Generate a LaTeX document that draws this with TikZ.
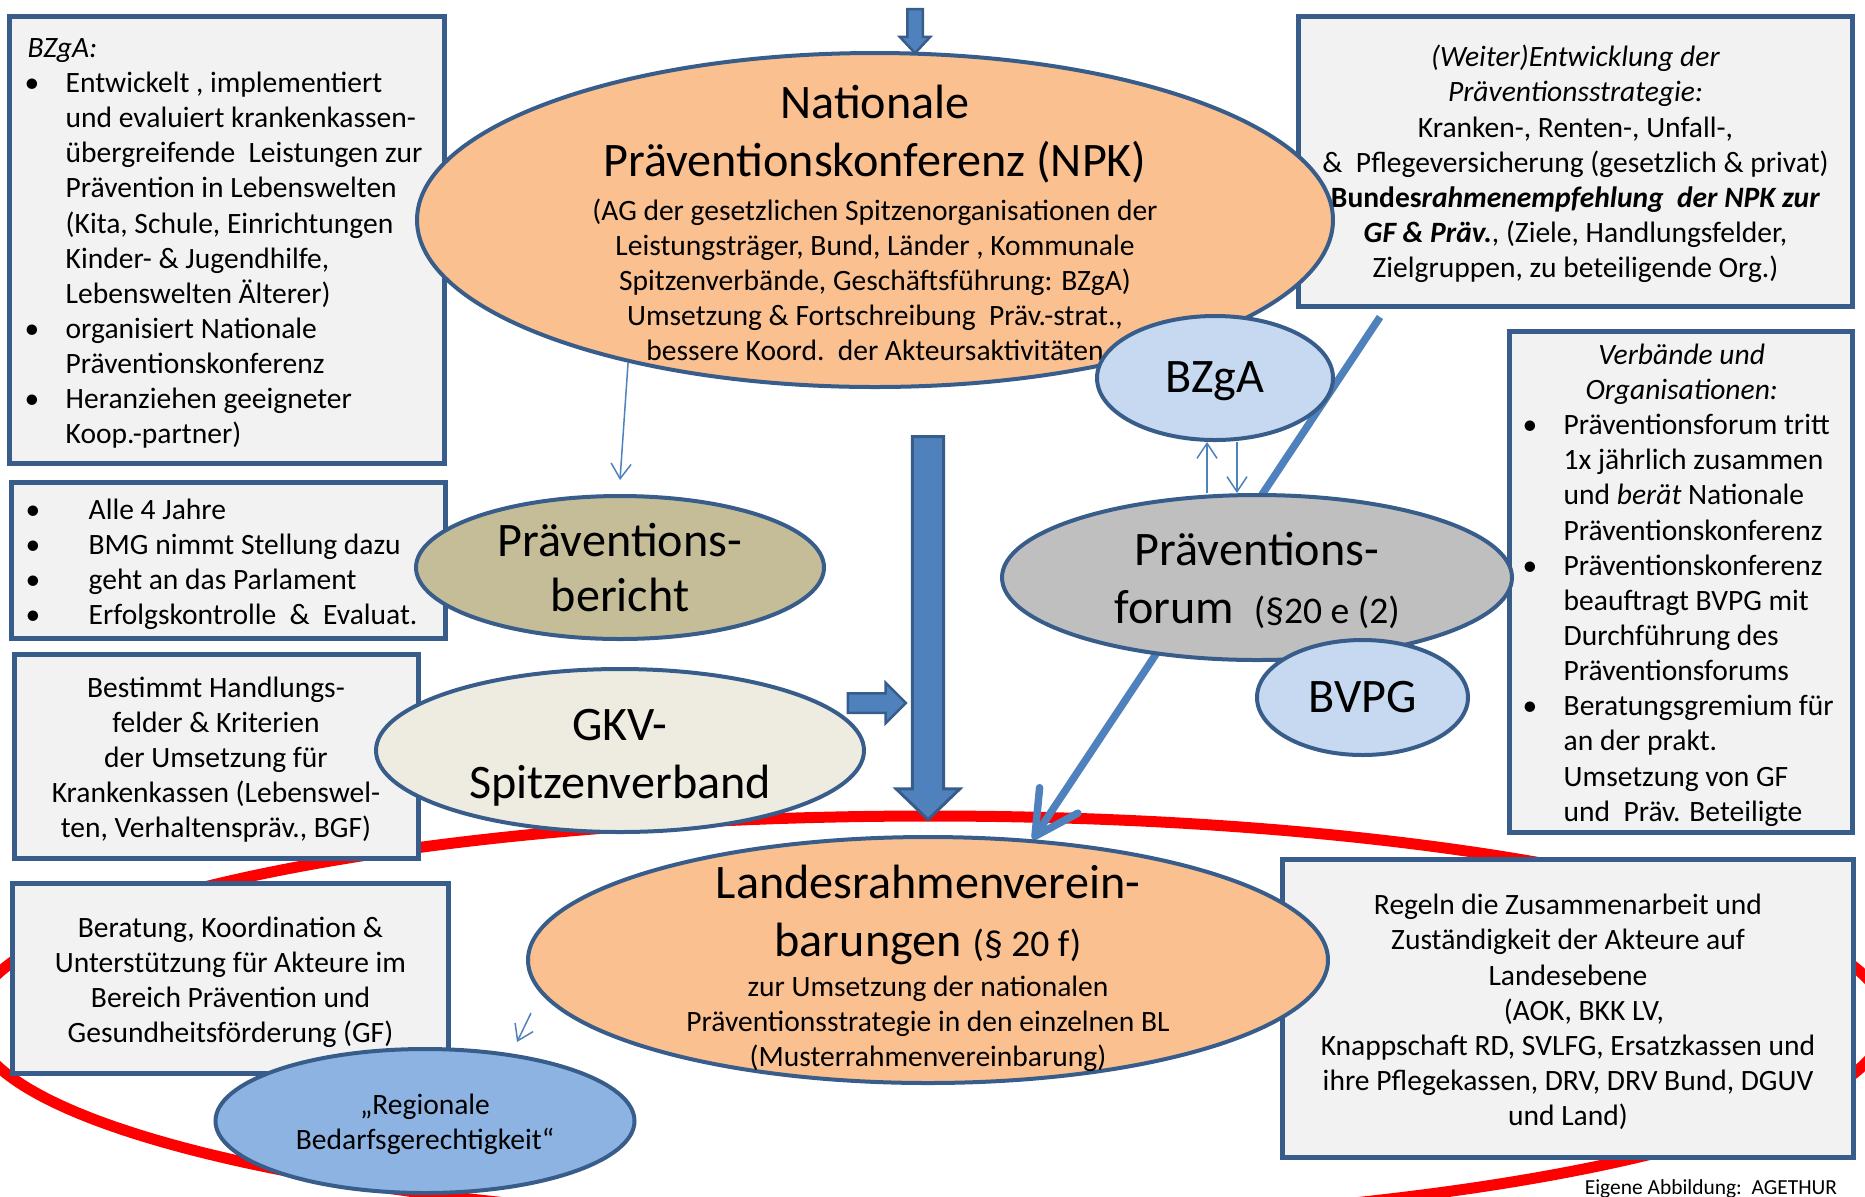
\documentclass[tikz,border=0pt]{standalone}
\usepackage{fontspec}
\setmainfont{Carlito}
\usetikzlibrary{shapes.geometric,shapes.arrows,arrows.meta,positioning}

\definecolor{boxline}{RGB}{56,93,138}
\definecolor{boxfill}{RGB}{242,242,242}
\definecolor{npkfill}{RGB}{250,192,143}
\definecolor{lightblue}{RGB}{198,217,241}
\definecolor{berichtfill}{RGB}{196,189,151}
\definecolor{forumfill}{RGB}{191,191,191}
\definecolor{gkvfill}{RGB}{238,236,225}
\definecolor{regfill}{RGB}{141,179,226}
\definecolor{arrowblue}{RGB}{79,129,189}

\pgfdeclarelayer{background}
\pgfsetlayers{background,main}

% bullet and hanging indent for the lists
\newcommand{\lbul}[1][3.8mm]{\makebox[#1][l]{\hspace*{-0.3mm}\textbullet}}
\newcommand{\lind}[1][3.8mm]{\hspace*{#1}}

\tikzset{
  box/.style={draw=boxline, fill=boxfill, line width=0.5mm, inner sep=0pt},
  oval/.style={ellipse, draw=boxline, line width=0.4mm, inner sep=0pt},
  txt/.style={font=\fontsize{8.4}{10}\selectfont, inner sep=0pt},
  bigtxt/.style={font=\fontsize{13.7}{16.5}\selectfont, inner sep=0pt},
  thinarr/.style={draw=arrowblue, line width=0.15mm, -{Straight Barb[length=1.5mm,width=2mm]}},
  diagarr/.style={draw=arrowblue, line width=0.75mm, -{Straight Barb[length=4.3mm,width=4.6mm,round]}},
  blockarr/.style={single arrow, draw=boxline, fill=arrowblue, line width=0.3mm, inner xsep=0pt, single arrow head indent=0pt},
  redring/.style={draw=red, line width=1.1mm},
}

\begin{document}
\begin{tikzpicture}[x=0.1mm, y=-0.1mm]
\useasboundingbox (0,0) rectangle (1865,1196);

% boxes
\node[box, minimum width=43.5mm, minimum height=44.7mm] (bzgabox) at (227,240) {};
\node[txt, align=left, right=2mm of bzgabox.west, yshift=-0.35mm] (bzgatext) {\textit{BZgA:}\\
\lbul Entwickelt , implementiert\\
\lind und evaluiert krankenkassen-\\
\lind übergreifende\ \ Leistungen zur\\
\lind Prävention in Lebenswelten\\
\lind (Kita, Schule, Einrichtungen\\
\lind Kinder- \& Jugendhilfe,\\
\lind Lebenswelten Älterer)\\
\lbul organisiert Nationale\\
\lind Präventionskonferenz\\
\lbul Heranziehen geeigneter\\
\lind Koop.-partner)};

\node[box, minimum width=43.4mm, minimum height=15.6mm] (allebox) at (228.5,560.5) {};
\node[txt, align=left, right=1.9mm of allebox.west, yshift=-0.35mm] (alletext) {\lbul[6mm]Alle 4 Jahre\\
\lbul[6mm]BMG nimmt Stellung dazu\\
\lbul[6mm]geht an das Parlament\\
\lbul[6mm]Erfolgskontrolle\ \ \&\ \ Evaluat.};

\node[box, minimum width=40.4mm, minimum height=20.4mm] (bestbox) at (216,756) {};
\node[txt, align=center] (besttext) at ([yshift=-0.35mm]bestbox) {Bestimmt Handlungs-\\
felder \& Kriterien\\
der Umsetzung für\\
Krankenkassen (Lebenswel-\\
ten, Verhaltenspräv., BGF)};

\node[box, minimum width=43.6mm, minimum height=19mm] (beratbox) at (230.5,978.5) {};
\node[txt, align=center] (berattext) at ([yshift=-0.35mm]beratbox) {Beratung, Koordination \&\\
Unterstützung für Akteure im\\
Bereich Prävention und\\
Gesundheitsförderung (GF)};

\node[box, minimum width=55.4mm, minimum height=29mm] (entwbox) at (1575.5,161.5) {};
\node[txt, align=center] (entwtext) at ([yshift=-0.25mm]entwbox) {\textit{(Weiter)Entwicklung der}\\
\textit{Präventionsstrategie:}\\
Kranken-, Renten-, Unfall-,\\
\&\ \ Pflegeversicherung (gesetzlich \& privat)\\
\textbf{Bundes\textit{rahmenempfehlung\ \ der NPK zur}}\\
\textbf{\textit{GF \& Präv.}}, (Ziele, Handlungsfelder,\\
Zielgruppen, zu beteiligende Org.)};

\node[box, minimum width=34.3mm, minimum height=50.1mm] (verbbox) at (1681,582) {};
\node[txt, align=left, right=1.8mm of verbbox.west, yshift=-0.3mm] (verbtext) {\makebox[31.2mm]{\textit{Verbände und}}\\
\makebox[31.2mm]{\textit{Organisationen:}}\\
\lbul Präventionsforum tritt\\
\lind 1x jährlich zusammen\\
\lind und \textit{berät} Nationale\\
\lind Präventionskonferenz\\
\lbul Präventionskonferenz\\
\lind beauftragt BVPG mit\\
\lind Durchführung des\\
\lind Präventionsforums\\
\lbul Beratungsgremium für\\
\lind an der prakt.\\
\lind Umsetzung von GF\\
\lind und\ \ Präv. Beteiligte};

\node[box, minimum width=57.1mm, minimum height=29.8mm] (regelbox) at (1568,1008.5) {};
\node[txt, align=center] (regeltext) at ([yshift=-0.35mm]regelbox) {Regeln die Zusammenarbeit und\\
Zuständigkeit der Akteure auf\\
Landesebene\\
\hspace*{3.2mm}(AOK, BKK LV,\\
Knappschaft RD, SVLFG, Ersatzkassen und\\
ihre Pflegekassen, DRV, DRV Bund, DGUV\\
und Land)};

% block arrows
\node[blockarr, rotate=-90, line width=0.25mm, inner ysep=0.65mm, minimum height=4.4mm, minimum width=2.8mm,
  single arrow head extend=0.75mm, single arrow tip angle=86] (toparrow) at (915,27) {};
\node[blockarr, rotate=-90, inner ysep=1.42mm, minimum height=38.3mm, minimum width=6mm,
  single arrow head extend=1.6mm, single arrow tip angle=92] (mainarrow) at (928,620.5) {};
\node[blockarr, line width=0.25mm, inner ysep=0.85mm, minimum height=5.8mm, minimum width=3.8mm,
  single arrow head extend=1.05mm] (gkvarrow) at (872,703) {};

% ellipses
\node[oval, fill=npkfill, minimum width=91.6mm, minimum height=33.4mm] (npk) at (875,220) {};
\node[bigtxt, align=center] (npktitle) at (875,134) {Nationale\\Präventionskonferenz (NPK)};
\node[txt, align=center] (npktext) at (875,280) {(AG der gesetzlichen Spitzenorganisationen der\\
Leistungsträger, Bund, Länder , Kommunale\\
Spitzenverbände, Geschäftsführung: BZgA)\\
Umsetzung \& Fortschreibung\ \ Präv.-strat.,\\
bessere Koord.\ \ der Akteursaktivitäten};

\node[oval, fill=lightblue, minimum width=23.6mm, minimum height=12.4mm] (bzga) at (1215,378) {};
\node[bigtxt] (bzgatxt) at ([yshift=-0.35mm]bzga) {BZgA};

\node[oval, fill=forumfill, minimum width=51mm, minimum height=16.5mm] (forum) at (1257,577.5) {};
\node[bigtxt, align=center] (forumtext) at ([yshift=-0.25mm]forum) {Präventions-\\forum\hspace{2mm}{\fontsize{10.7}{12}\selectfont(§20 e (2)}};
\node[oval, fill=lightblue, minimum width=21.1mm, minimum height=11.5mm] (bvpg) at (1362.5,697.5) {};
\node[bigtxt] (bvpgtext) at (bvpg) {BVPG};

\node[oval, fill=berichtfill, minimum width=40.8mm, minimum height=14.3mm] (bericht) at (620,567.5) {};
\node[bigtxt, font=\fontsize{13.7}{15.4}\selectfont, align=center] (berichttext) at (bericht) {Präventions-\\bericht};
\node[oval, fill=gkvfill, minimum width=48.8mm, minimum height=16.3mm] (gkv) at (620,750.5) {};
\node[bigtxt, align=center] (gkvtext) at ([yshift=-0.7mm]gkv) {GKV-\\Spitzenverband};

\node[oval, fill=npkfill, minimum width=80mm, minimum height=24.6mm] (landes) at (928,960) {};
\node[bigtxt, align=center] (landestitle) at (928,915) {Landesrahmenverein-\\barungen {\fontsize{10.7}{12}\selectfont(§ 20 f)}};
\node[txt, align=center] (landestext) at (928,1023.5) {zur Umsetzung der nationalen\\
Präventionsstrategie in den einzelnen BL\\
(Musterrahmenvereinbarung)};

\node[oval, fill=regfill, minimum width=41.9mm, minimum height=14.4mm] (regional) at (425,1121) {};
\node[txt, align=center] (regionaltext) at ([yshift=-0.35mm]regional) {„Regionale\\Bedarfsgerechtigkeit“};

% thin arrows
\draw[thinarr] (npk.210.3) -- ([yshift=1.4mm]bericht.north);
\draw[thinarr] (1207,0 |- forum.north) -- (1207,0 |- bzga.south);
\draw[thinarr] (1237,0 |- bzga.south) -- (1237,0 |- forum.north);
\coordinate (regtail) at (531,1013);
\coordinate (regtip) at (517,1042);
\draw[thinarr] (regtail) -- (regtip);

\node[font=\fontsize{6.1}{7}\selectfont, anchor=base, inner sep=0pt] (credit) at (1711,1194) {Eigene Abbildung:\ \ AGETHUR};

% red ring and long arrow behind everything
\begin{pgfonlayer}{background}
\draw[redring] (930,1020) ellipse (95.7mm and 20.4mm);
\coordinate (diagstart) at (1380,317);
\draw[diagarr] (diagstart) -- (landes.49);
\end{pgfonlayer}
\end{tikzpicture}
\end{document}
